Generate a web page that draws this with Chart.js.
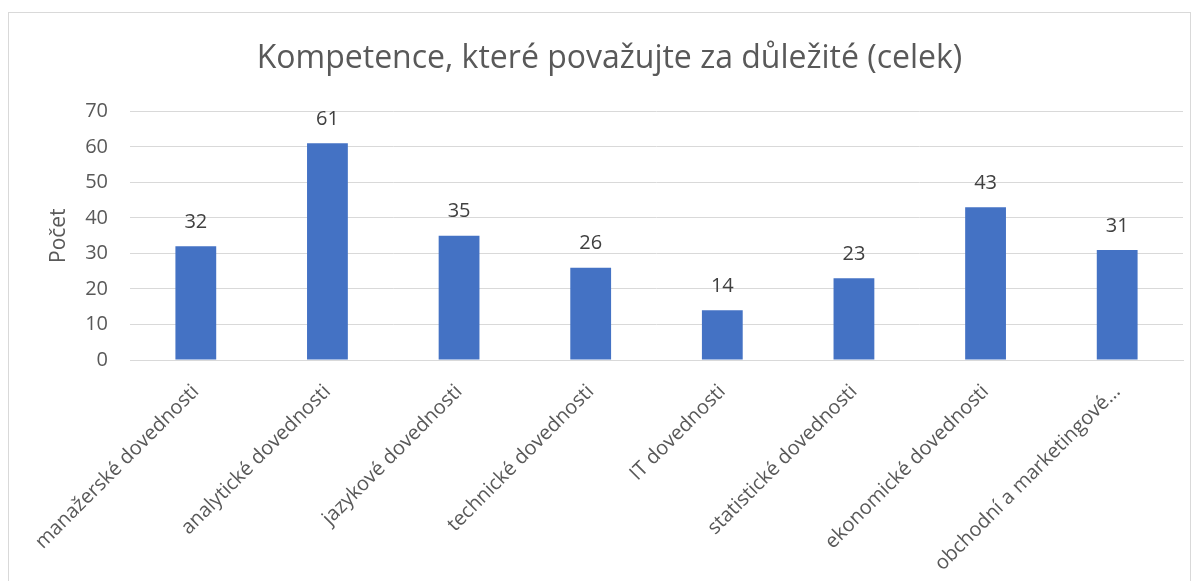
<!DOCTYPE html>
<html>
<head>
<meta charset="utf-8">
<style>
  html, body { margin: 0; padding: 0; background: #fff; }
  #frame { position: absolute; left: 8px; top: 12px; width: 1181px; height: 575px; border: 1px solid #d9d9d9; }
  #wrap { position: absolute; left: 0; top: 0; width: 1199px; height: 581px; }
</style>
</head>
<body>
<div id="frame"></div>
<div id="wrap"><canvas id="myChart"></canvas></div>

<script src="https://cdn.jsdelivr.net/npm/chart.js"></script>
<script>
    const kategorie = [
        'manažerské dovednosti',
        'analytické dovednosti',
        'jazykové dovednosti',
        'technické dovednosti',
        'IT dovednosti',
        'statistické dovednosti',
        'ekonomické dovednosti',
        'obchodní a marketingové…'
    ]
    const pocty = [32, 61, 35, 26, 14, 23, 43, 31]
    const yTicks = [0, 10, 20, 30, 40, 50, 60, 70]

    const pismo = '"Open Sans", Lato, sans-serif'
    const seda = '#595959'

    // popisky hodnot nad sloupci
    const popisky = {
        id: 'popisky',
        afterDatasetsDraw(chart) {
            const ctx = chart.ctx
            const meta = chart.getDatasetMeta(0)
            ctx.save()
            ctx.font = '20px ' + pismo
            ctx.fillStyle = '#404040'
            ctx.textAlign = 'center'
            ctx.textBaseline = 'middle'
            meta.data.forEach((bar, i) => {
                ctx.fillText(pocty[i], bar.x, bar.y - 24)
            })
            ctx.restore()
        }
    }

    const ctx = document.getElementById('myChart')
    const myChart = new Chart(ctx, {
        type: 'bar',
        data: {
            labels: kategorie,
            datasets: [{
                label: 'Počet',
                data: pocty,
                backgroundColor: '#4472c4',
                barPercentage: 0.31,
                categoryPercentage: 1
            }]
        },
        options: {
            responsive: true,
            maintainAspectRatio: false,
            animation: false,
            layout: { padding: { left: 36, right: 16, top: 0, bottom: 0 } },
            plugins: {
                legend: { display: false },
                tooltip: { enabled: false },
                title: {
                    display: true,
                    text: 'Kompetence, které považujte za důležité (celek)',
                    color: seda,
                    font: { family: pismo, size: 32, weight: 'normal' },
                    padding: { top: 40, bottom: 33 }
                }
            },
            scales: {
                x: {
                    grid: { display: false },
                    border: { color: '#d9d9d9' },
                    ticks: {
                        color: seda,
                        font: { family: pismo, size: 20 },
                        minRotation: 45,
                        maxRotation: 45,
                        autoSkip: false,
                        padding: 12
                    },
                    afterFit: (scale) => { scale.height = 221 }
                },
                y: {
                    min: 0,
                    max: 70,
                    afterBuildTicks: (scale) => { scale.ticks = yTicks.map(v => ({ value: v })) },
                    grid: { color: '#d9d9d9', drawTicks: false },
                    border: { display: false },
                    ticks: {
                        color: seda,
                        font: { family: pismo, size: 20 },
                        padding: 22
                    },
                    title: {
                        display: true,
                        text: 'Počet',
                        color: seda,
                        font: { family: pismo, size: 21, weight: 'normal' },
                        padding: { top: 10, bottom: 0 }
                    },
                    afterFit: (scale) => { scale.width = 94 }
                }
            }
        },
        plugins: [popisky]
    })
</script>
</body>
</html>
